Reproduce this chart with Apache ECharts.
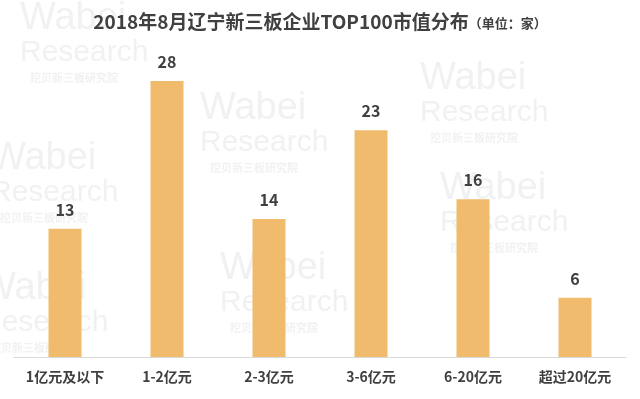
<!DOCTYPE html>
<html><head><meta charset="utf-8">
<script src="https://cdn.jsdelivr.net/npm/echarts@6/dist/echarts.min.js"></script>
<style>html,body{margin:0;padding:0;background:#fff}#c{width:640px;height:399px}</style>
</head><body><div id="c"></div>
<script>
const categories = ['1亿元及以下','1-2亿元','2-3亿元','3-6亿元','6-20亿元','超过20亿元'];
const values = [13, 28, 14, 23, 16, 6];
const titleText = '2018年8月辽宁新三板企业TOP100市值分布';
const unitText = '（单位：家）';

const wm = [];
const wmPos = [[20,0],[200,90],[420,60],[-10,140],[220,250],[440,170],[-20,270]];
wmPos.forEach(p => {
  wm.push({type:'text', left:p[0], top:p[1], z:-1, style:{text:'Wabei', fill:'rgba(200,205,212,0.28)', font:'38px "Liberation Sans", Arial'}});
  wm.push({type:'text', left:p[0], top:p[1]+38, z:-1, style:{text:'Research', fill:'rgba(200,205,212,0.28)', font:'30px "Liberation Sans", Arial'}});
  wm.push({type:'text', left:p[0]+10, top:p[1]+72, z:-1, style:{text:'挖贝新三板研究院', fill:'rgba(200,205,212,0.28)', font:'bold 11px "Noto Sans CJK SC"'}});
});

const chart = echarts.init(document.getElementById('c'));
chart.setOption({
  animation: false,
  graphic: wm,
  title: {
    text: '{a|' + titleText + '}{b|' + unitText + '}',
    left: 'center', top: 7,
    textStyle: {
      rich: {
        a: {fontSize: 19, fontWeight: 'bold', color: '#404040', fontFamily: '"Noto Sans CJK SC", sans-serif'},
        b: {fontSize: 13, fontWeight: 'bold', color: '#404040', fontFamily: '"Noto Sans CJK SC", sans-serif', padding:[3,0,0,0]}
      }
    }
  },
  grid: {left: 14, right: 14, top: 81, bottom: 42},
  xAxis: {
    type: 'category', data: categories,
    axisLine: {lineStyle: {color: '#d9d9d9', width: 1}},
    axisTick: {show: false},
    axisLabel: {color: '#404040', fontSize: 14, fontWeight: 'bold', margin: 13, fontFamily: '"Noto Sans CJK SC", sans-serif'}
  },
  yAxis: {type: 'value', min: 0, max: 28, show: false, splitLine: {show: false}},
  series: [{
    type: 'bar', data: values, barWidth: 33,
    itemStyle: {color: '#F0BB6C'},
    label: {show: true, position: 'top', distance: 11, color: '#404040', fontSize: 16, fontWeight: 'bold', fontFamily: '"Noto Sans CJK SC", sans-serif'}
  }]
});
</script></body></html>
